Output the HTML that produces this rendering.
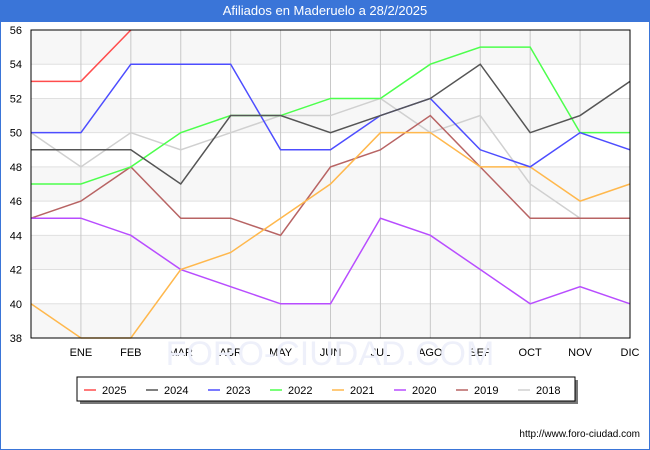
<!DOCTYPE html>
<html><head><meta charset="utf-8"><style>
body{margin:0;width:650px;height:450px;overflow:hidden;background:#fff;font-family:"Liberation Sans",sans-serif}
#frame{position:absolute;left:0;top:0;width:648px;height:448px;border:1px solid #3a75d8}
#title{position:absolute;left:0;top:0;width:650px;height:22px;background:#3a75d8;color:#fff;font-size:13px;text-align:center;line-height:22px}
</style></head><body>
<div id="frame"></div>
<div id="title">Afiliados en Maderuelo a 28/2/2025</div>
<svg id="chart" width="650" height="450" style="position:absolute;left:0;top:0"></svg>
<script>
const months=["","ENE","FEB","MAR","ABR","MAY","JUN","JUL","AGO","SEP","OCT","NOV","DIC"];
const yTicks=[38,40,42,44,46,48,50,52,54,56];
const years=["2025","2024","2023","2022","2021","2020","2019","2018"];
const colors=["#ff4d4d","#555555","#4d4dff","#4dff4d","#ffb84d","#b84dff","#b86464","#d0d0d0"];
const s2025=[53,53,56];
const s2024=[49,49,49,47,51,51,50,51,52,54,50,51,53];
const s2023=[50,50,54,54,54,49,49,51,52,49,48,50,49];
const s2022=[47,47,48,50,51,51,52,52,54,55,55,50,50];
const s2021=[40,38,38,42,43,45,47,50,50,48,48,46,47];
const s2020=[45,45,44,42,41,40,40,45,44,42,40,41,40];
const s2019=[45,46,48,45,45,44,48,49,51,48,45,45,45];
const s2018=[50,48,50,49,50,51,51,52,50,51,47,45,45];
const series=[s2025,s2024,s2023,s2022,s2021,s2020,s2019,s2018];
const X0=31,X1=630,Y0=30,Y1=338,ymin=38,ymax=56;
const xs=i=>X0+(X1-X0)*i/12, ys=v=>Y1-(v-ymin)/(ymax-ymin)*(Y1-Y0);
const svg=document.getElementById('chart'),NS='http://www.w3.org/2000/svg';
function mk(t,a,p){const e=document.createElementNS(NS,t);for(const k in a)e.setAttribute(k,a[k]);(p||svg).appendChild(e);return e;}
for(let i=0;i<yTicks.length-1;i++){if(i%2===0){const r=mk('rect',{x:X0,y:ys(yTicks[i+1]),width:X1-X0,height:ys(yTicks[i])-ys(yTicks[i+1]),fill:'#f7f7f7'});

}}
yTicks.forEach(v=>{const l=mk('line',{x1:X0,x2:X1,y1:ys(v),y2:ys(v),stroke:'#e0e0e0'});


const t=mk('text',{x:22,y:ys(v)+4,'text-anchor':'end','font-size':11,fill:'#000'});t.textContent=v;

});
months.forEach((m,i)=>{const l=mk('line',{x1:xs(i),x2:xs(i),y1:Y0,y2:Y1,stroke:'#c8c8c8'});


if(m){const t=mk('text',{x:xs(i),y:356,'text-anchor':'middle','font-size':11,fill:'#000'});t.textContent=m;

}});
const wm=mk('text',{x:330,y:365,'text-anchor':'middle','font-size':34,fill:'#eef0fa'});wm.textContent='FORO-CIUDAD.COM';


for(let k=series.length-1;k>=0;k--){const pts=series[k].map((v,i)=>xs(i)+','+ys(v)).join(' ');
const p=mk('polyline',{points:pts,fill:'none',stroke:colors[k],'stroke-width':1.5});

}
const b=mk('rect',{x:X0,y:Y0,width:X1-X0,height:Y1-Y0,fill:'none',stroke:'#000'});


const lg=mk('g',{});


mk('rect',{x:80,y:380,width:498,height:24,fill:'#777'},lg);
mk('rect',{x:77,y:377,width:498,height:24,fill:'#fff',stroke:'#000'},lg);
years.forEach((y,i)=>{const x=84+i*62;
const l=mk('line',{x1:x,x2:x+12,y1:390,y2:390,stroke:colors[i],'stroke-width':1.5},lg);


const t=mk('text',{x:x+18,y:394,'font-size':11,fill:'#000'},lg);t.textContent=y;

});
const u=mk('text',{x:640,y:437,'text-anchor':'end','font-size':10,fill:'#000'});u.textContent='http://www.foro-ciudad.com';


</script>
</body></html>
